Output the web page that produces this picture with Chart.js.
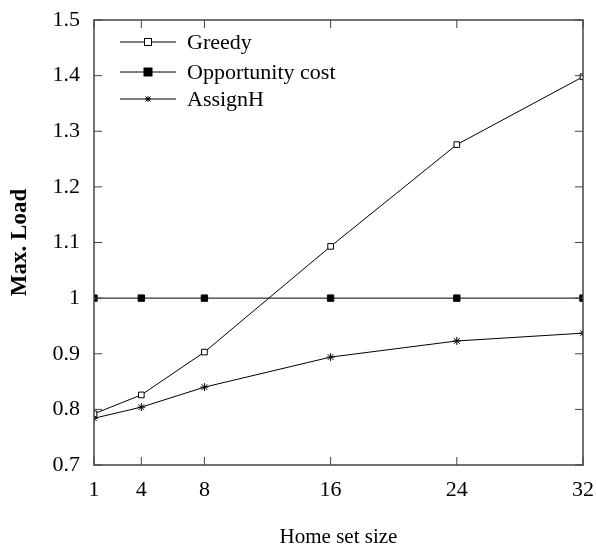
<!DOCTYPE html>
<html>
<head>
<meta charset="utf-8">
<script src="https://cdn.jsdelivr.net/npm/chart.js@4.4.0/dist/chart.umd.min.js"></script>
<style>
  html, body { margin: 0; padding: 0; background: #fff; }
  #wrap { width: 596px; height: 554px; }
</style>
</head>
<body>
<div id="wrap"><canvas id="loadChart"></canvas></div>
<script>
const homeSetSizes = [1, 4, 8, 16, 24, 32];
const greedyLoad = [0.792, 0.826, 0.903, 1.093, 1.276, 1.398];
const opportunityLoad = [1, 1, 1, 1, 1, 1];
const assignHLoad = [0.784, 0.804, 0.840, 0.894, 0.923, 0.937];
const yTicks = [0.7, 0.8, 0.9, 1.0, 1.1, 1.2, 1.3, 1.4, 1.5];

const seriesNames = ['Greedy', 'Opportunity cost', 'AssignH'];

const serif = "'Liberation Serif', 'DejaVu Serif', serif";
const axisColor = '#444';

function toPoints(values) {
    return homeSetSizes.map((x, i) => ({ x: x, y: values[i] }));
}

// frame on all four sides with inward ticks, plus the legend box
const frameTicks = {
    id: 'frameTicks',
    afterDraw(chart) {
        const { ctx, chartArea: a, scales } = chart;
        const len = 8;
        ctx.save();
        ctx.strokeStyle = axisColor;
        ctx.lineWidth = 1.5;
        ctx.strokeRect(a.left, a.top, a.right - a.left, a.bottom - a.top);
        ctx.lineWidth = 1;
        ctx.beginPath();
        homeSetSizes.forEach(v => {
            const px = scales.x.getPixelForValue(v);
            ctx.moveTo(px, a.bottom); ctx.lineTo(px, a.bottom - len);
            ctx.moveTo(px, a.top); ctx.lineTo(px, a.top + len);
        });
        yTicks.forEach(v => {
            const py = scales.y.getPixelForValue(v);
            ctx.moveTo(a.left, py); ctx.lineTo(a.left + len, py);
            ctx.moveTo(a.right, py); ctx.lineTo(a.right - len, py);
        });
        ctx.stroke();

        // legend
        const lx0 = 120, lx1 = 176, rows = [42, 72, 99];
        ctx.font = '22px ' + serif;
        ctx.textBaseline = 'middle';
        chart.data.datasets.forEach((ds, i) => {
            const y = rows[i];
            ctx.strokeStyle = '#000';
            ctx.lineWidth = 1;
            ctx.beginPath();
            ctx.moveTo(lx0, y); ctx.lineTo(lx1, y);
            ctx.stroke();
            const mx = (lx0 + lx1) / 2;
            if (i === 0) {
                ctx.fillStyle = '#fff';
                ctx.fillRect(mx - 3.5, y - 3.5, 7, 7);
                ctx.strokeRect(mx - 3.5, y - 3.5, 7, 7);
            } else if (i === 1) {
                ctx.fillStyle = '#000';
                ctx.fillRect(mx - 4.5, y - 4.5, 9, 9);
            } else {
                ctx.beginPath();
                ctx.moveTo(mx - 3, y); ctx.lineTo(mx + 3, y);
                ctx.moveTo(mx, y - 3); ctx.lineTo(mx, y + 3);
                ctx.moveTo(mx - 2.5, y - 2.5); ctx.lineTo(mx + 2.5, y + 2.5);
                ctx.moveTo(mx - 2.5, y + 2.5); ctx.lineTo(mx + 2.5, y - 2.5);
                ctx.stroke();
            }
            ctx.fillStyle = '#000';
            ctx.fillText(ds.label, 187, y + 1);
        });
        ctx.restore();
    }
};

new Chart(document.getElementById('loadChart'), {
    type: 'line',
    data: {
        datasets: [
            {
                label: seriesNames[0],
                data: toPoints(greedyLoad),
                borderColor: '#000',
                borderWidth: 1,
                pointStyle: 'rect',
                pointRadius: 4,
                pointBackgroundColor: '#fff',
                pointBorderColor: '#000',
                pointBorderWidth: 1
            },
            {
                label: seriesNames[1],
                data: toPoints(opportunityLoad),
                borderColor: '#000',
                borderWidth: 1,
                pointStyle: 'rect',
                pointRadius: 4.5,
                pointBackgroundColor: '#000',
                pointBorderColor: '#000',
                pointBorderWidth: 1
            },
            {
                label: seriesNames[2],
                data: toPoints(assignHLoad),
                borderColor: '#000',
                borderWidth: 1,
                pointStyle: 'star',
                pointRadius: 4,
                pointBorderColor: '#000',
                pointBorderWidth: 1
            }
        ]
    },
    options: {
        responsive: true,
        maintainAspectRatio: false,
        animation: false,
        layout: { padding: { top: 20, right: 13, left: 0, bottom: 0 } },
        plugins: {
            legend: { display: false },
            tooltip: { enabled: false }
        },
        scales: {
            x: {
                type: 'linear',
                min: 1,
                max: 32,
                afterBuildTicks: scale => {
                    scale.ticks = homeSetSizes.map(v => ({ value: v }));
                },
                afterFit: scale => {
                    scale.height = 89;
                    scale.paddingLeft = 0;
                    scale.paddingRight = 0;
                },
                grid: { display: false, drawTicks: false },
                border: { display: false },
                ticks: {
                    color: '#000',
                    padding: 12,
                    font: { family: serif, size: 22 }
                },
                title: {
                    display: true,
                    text: 'Home set size',
                    color: '#000',
                    padding: { top: 10 },
                    font: { family: serif, size: 21 }
                }
            },
            y: {
                min: 0.7,
                max: 1.5,
                afterBuildTicks: scale => {
                    scale.ticks = yTicks.map(v => ({ value: v }));
                },
                afterFit: scale => {
                    scale.width = 94;
                    scale.paddingTop = 0;
                    scale.paddingBottom = 0;
                },
                grid: { display: false, drawTicks: false },
                border: { display: false },
                ticks: {
                    color: '#000',
                    padding: 14,
                    font: { family: serif, size: 22 },
                    callback: v => String(Math.round(v * 10) / 10)
                },
                title: {
                    display: true,
                    text: 'Max. Load',
                    color: '#000',
                    padding: { top: 6, bottom: 0 },
                    font: { family: serif, size: 23, weight: 'bold' }
                }
            }
        }
    },
    plugins: [frameTicks]
});
</script>
</body>
</html>
